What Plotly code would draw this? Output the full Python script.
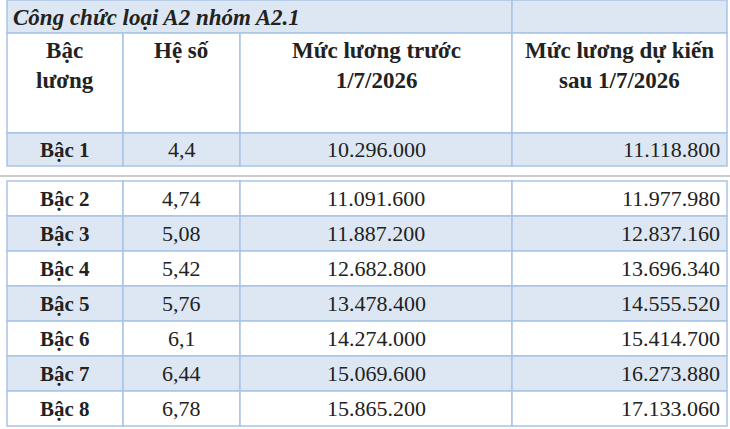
import plotly.graph_objects as go

title = "Công chức loại A2 nhóm A2.1"
headers = ["Bậc<br>lương", "Hệ số", "Mức lương trước<br>1/7/2026", "Mức lương dự kiến<br>sau 1/7/2026"]
bac = ["Bậc 1", "Bậc 2", "Bậc 3", "Bậc 4", "Bậc 5", "Bậc 6", "Bậc 7", "Bậc 8"]
he_so = ["4,4", "4,74", "5,08", "5,42", "5,76", "6,1", "6,44", "6,78"]
truoc = ["10.296.000", "11.091.600", "11.887.200", "12.682.800",
         "13.478.400", "14.274.000", "15.069.600", "15.865.200"]
sau = ["11.118.800", "11.977.980", "12.837.160", "13.696.340",
       "14.555.520", "15.414.700", "16.273.880", "17.133.060"]

W, H = 730, 429
cols = [7, 123, 240, 512, 727]
BLUE = "#dde7f3"
LINE = "#a9c4e6"
FONT = "Liberation Serif"
INK = "#222"

fig = go.Figure()
shapes, ann = [], []

def cell(x0, x1, y0, y1, fill):
    shapes.append(dict(type="rect", x0=x0, x1=x1, y0=y0, y1=y1, fillcolor=fill,
                       line=dict(color=LINE, width=1.5), layer="below"))

# title row
cell(cols[0], cols[3], 0, 33, BLUE)
cell(cols[3], cols[4], 0, 33, BLUE)
ann.append(dict(x=cols[0] + 4, y=17, text="<b><i>" + title + "</i></b>", xanchor="left",
                font=dict(size=23, color=INK)))

# header row
for i in range(4):
    cell(cols[i], cols[i + 1], 33, 133, "white")
    ann.append(dict(x=(cols[i] + cols[i + 1]) / 2, y=36, yanchor="top", text="<b>" + headers[i] + "</b>",
                    font=dict(size=23, color=INK)))

# data rows
row_y = [133] + [181 + 35 * k for k in range(7)]
row_h = [33] + [35] * 7
shapes.append(dict(type="line", x0=0, x1=W, y0=176, y1=176, line=dict(color="#cccccc", width=2)))
for r in range(len(bac)):
    y0 = row_y[r]
    y1 = y0 + row_h[r]
    fill = BLUE if r % 2 == 0 else "white"
    for i in range(4):
        cell(cols[i], cols[i + 1], y0, y1, fill)
    yc = (y0 + y1) / 2
    ann.append(dict(x=(cols[0] + cols[1]) / 2, y=yc, text="<b>" + bac[r] + "</b>", font=dict(size=21, color=INK)))
    ann.append(dict(x=(cols[1] + cols[2]) / 2, y=yc, text=he_so[r], font=dict(size=22, color=INK)))
    ann.append(dict(x=(cols[2] + cols[3]) / 2, y=yc, text=truoc[r], font=dict(size=22, color=INK)))
    ann.append(dict(x=cols[4] - 5, y=yc, text=sau[r], xanchor="right", font=dict(size=22, color=INK)))

for a in ann:
    a.update(xref="x", yref="y", showarrow=False)
    a["font"]["family"] = FONT

fig.update_layout(width=W, height=H, margin=dict(l=0, r=0, t=0, b=0),
                  plot_bgcolor="white", paper_bgcolor="white",
                  shapes=shapes, annotations=ann,
                  xaxis=dict(range=[0, W], visible=False, fixedrange=True),
                  yaxis=dict(range=[H, 0], visible=False, fixedrange=True),
                  showlegend=False)
fig.write_html("out.html", config={"displayModeBar": False},
               post_script="document.body.style.margin='0';document.body.style.overflow='hidden';")
